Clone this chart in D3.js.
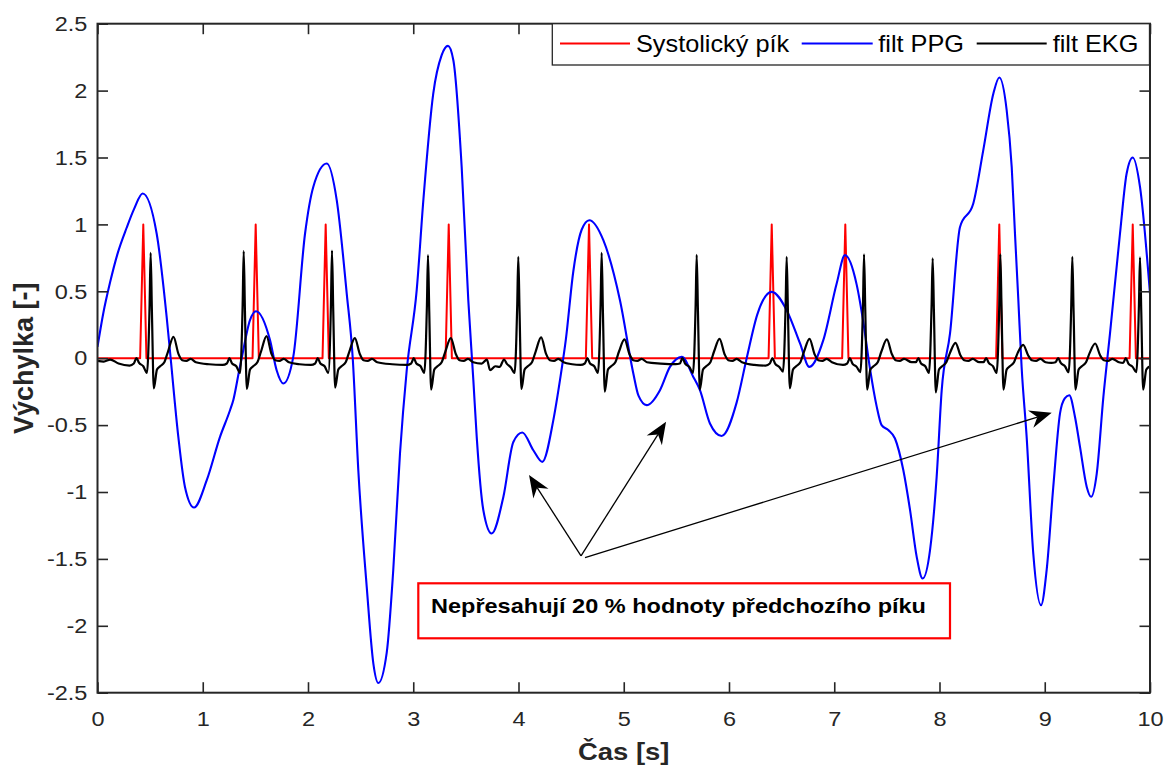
<!DOCTYPE html>
<html><head><meta charset="utf-8">
<script src="https://cdn.jsdelivr.net/npm/d3@7"></script>
<style>
body{margin:0;background:#fff}
svg{display:block}
text{font-family:"Liberation Sans",Arial,Helvetica,sans-serif}
</style>
</head><body>
<svg id="c" width="1164" height="766"></svg>
<script>
// ---------------- DATA ----------------
const seriesNames = ["Systolický pík", "filt PPG", "filt EKG"];
const xTicks = [0, 1, 2, 3, 4, 5, 6, 7, 8, 9, 10];
const yTicks = [-2.5, -2, -1.5, -1, -0.5, 0, 0.5, 1, 1.5, 2, 2.5];
const xLabel = "Čas [s]";
const yLabel = "Výchylka [-]";
const noteText = "Nepřesahují 20 % hodnoty předchozího píku";

// red: detected systolic peaks (0/1 marker signal)
const systolicPoints = [
  [0,0],[0.405,0],[0.435,1],[0.465,0],
  [1.473,0],[1.503,1],[1.533,0],
  [2.138,0],[2.168,1],[2.198,0],
  [3.307,0],[3.337,1],[3.367,0],
  [4.640,0],[4.670,1],[4.700,0],
  [6.376,0],[6.406,1],[6.436,0],
  [7.075,0],[7.105,1],[7.135,0],
  [8.538,0],[8.568,1],[8.598,0],
  [9.806,0],[9.836,1],[9.866,0],
  [10,0]
];

// blue: filtered PPG
const ppgPoints = [
  [0,0.085],[0.055,0.336],[0.119,0.565],[0.19,0.78],[0.277,0.975],[0.35,1.12],[0.429,1.231],[0.562,0.932],[0.657,0.309],[0.695,0.0],
  [0.768,-0.588],[0.831,-0.962],[0.917,-1.116],[1.038,-0.912],[1.164,-0.588],[1.259,-0.389],
  [1.29,-0.314],[1.347,-0.088],[1.37,0.0],[1.449,0.285],[1.506,0.351],[1.639,0.135],[1.702,-0.09],
  [1.766,-0.189],[1.86,0.01],[1.972,0.932],[2.05,1.28],[2.178,1.455],[2.273,1.181],[2.368,0.483],
  [2.425,0.0],[2.478,-0.837],[2.558,-1.709],[2.621,-2.282],[2.668,-2.427],[2.748,-2.2],[2.81,-1.584],
  [2.874,-0.712],[2.938,-0.09],[3.033,0.51],[3.096,1.181],[3.19,1.978],[3.27,2.265],[3.33,2.334],
  [3.381,2.227],[3.46,1.43],[3.523,0.433],[3.571,-0.164],[3.603,-0.588],[3.666,-1.136],[3.745,-1.31],
  [3.856,-1.037],[3.951,-0.626],[4.036,-0.555],[4.141,-0.688],[4.226,-0.775],[4.331,-0.463],
  [4.394,-0.164],[4.45,0.14],[4.521,0.65],[4.6,0.96],[4.673,1.031],[4.806,0.882],[4.964,0.433],
  [5.091,-0.114],[5.14,-0.28],[5.218,-0.351],[5.344,-0.239],[5.439,-0.065],[5.551,0.01],[5.661,-0.14],
  [5.724,-0.239],[5.819,-0.488],[5.93,-0.581],[6.073,-0.33],[6.168,0.0],[6.27,0.33],[6.406,0.496],
  [6.548,0.359],[6.675,0.11],[6.763,-0.065],[6.896,0.135],[7.023,0.558],[7.102,0.77],[7.213,0.55],
  [7.28,0.25],[7.34,-0.08],[7.403,-0.36],[7.45,-0.5],[7.513,-0.537],[7.577,-0.6],[7.656,-0.836],
  [7.72,-1.134],[7.783,-1.483],[7.84,-1.647],[7.91,-1.435],[7.973,-0.887],[8.021,-0.239],[8.1,0.185],
  [8.195,0.981],[8.321,1.156],[8.416,1.555],[8.512,1.978],[8.568,2.098],[8.638,1.855],[8.686,1.43],
  [8.717,0.933],[8.749,0.435],[8.78,-0.064],[8.828,-0.588],[8.891,-1.46],[8.965,-1.846],[9.018,-1.584],
  [9.081,-0.962],[9.145,-0.413],[9.19,-0.3],[9.233,-0.277],[9.287,-0.437],[9.335,-0.663],[9.399,-0.962],
  [9.44,-1.036],[9.494,-0.862],[9.557,-0.289],[9.62,0.185],[9.715,0.932],[9.778,1.38],[9.836,1.5],
  [9.905,1.28],[10.0,0.483]
];

// black: filtered ECG
const ekgPoints = [
  [0,-0.02],[0.06,-0.025],[0.12,-0.01],[0.2,-0.04],[0.305,-0.055],
  [0.345,-0.04],[0.37,0.0],[0.395,-0.035],[0.435,-0.06],[0.47,-0.11],[0.495,0.40],[0.505,0.787],[0.517,0.35],[0.535,-0.225],
  [0.565,-0.085],[0.595,-0.06],[0.635,-0.03],[0.67,0.05],[0.722,0.159],[0.77,0.03],[0.805,-0.015],[0.845,-0.02],[0.885,-0.005],[0.935,-0.03],[1.06,-0.045],
  [1.189,-0.05],[1.229,-0.04],[1.254,0.0],[1.279,-0.04],[1.319,-0.06],[1.354,-0.11],[1.379,0.40],[1.389,0.80],[1.401,0.35],[1.419,-0.23],
  [1.449,-0.085],[1.479,-0.06],[1.519,-0.03],[1.554,0.05],[1.606,0.165],[1.654,0.03],[1.689,-0.015],[1.729,-0.02],[1.769,-0.005],[1.819,-0.03],[1.92,-0.045],
  [2.028,-0.05],[2.068,-0.04],[2.093,0.0],[2.118,-0.04],[2.158,-0.06],[2.193,-0.11],[2.218,0.40],[2.228,0.805],[2.24,0.35],[2.258,-0.22],
  [2.288,-0.085],[2.318,-0.06],[2.358,-0.03],[2.393,0.05],[2.445,0.15],[2.493,0.03],[2.528,-0.015],[2.568,-0.02],[2.608,-0.005],[2.658,-0.03],[2.80,-0.045],
  [2.94,-0.05],[2.98,-0.04],[3.005,0.0],[3.03,-0.04],[3.07,-0.06],[3.105,-0.11],[3.13,0.40],[3.14,0.77],[3.152,0.35],[3.17,-0.235],
  [3.20,-0.085],[3.23,-0.06],[3.27,-0.03],[3.305,0.05],[3.357,0.15],[3.405,0.03],[3.44,-0.015],[3.48,-0.02],[3.52,-0.005],[3.57,-0.03],
  [3.65,-0.04],[3.70,-0.01],[3.73,-0.09],[3.78,-0.06],[3.82,-0.065],
  [3.863,-0.01],[3.888,-0.04],[3.928,-0.07],[3.963,-0.11],[3.988,0.40],[3.998,0.757],[4.01,0.35],[4.028,-0.23],
  [4.058,-0.085],[4.088,-0.06],[4.128,-0.03],[4.163,0.05],[4.215,0.155],[4.263,0.03],[4.298,-0.015],[4.338,-0.02],[4.378,-0.005],[4.428,-0.03],[4.51,-0.045],
  [4.59,-0.05],[4.63,-0.04],[4.655,0.0],[4.68,-0.04],[4.72,-0.06],[4.755,-0.11],[4.78,0.40],[4.79,0.787],[4.802,0.35],[4.82,-0.25],
  [4.85,-0.085],[4.88,-0.06],[4.92,-0.03],[4.955,0.05],[5.007,0.14],[5.055,0.03],[5.09,-0.015],[5.13,-0.02],[5.17,-0.005],[5.22,-0.03],[5.35,-0.04],
  [5.493,-0.045],[5.533,-0.04],[5.558,0.0],[5.583,-0.04],[5.623,-0.065],[5.658,-0.11],[5.683,0.40],[5.693,0.772],[5.705,0.35],[5.723,-0.235],
  [5.753,-0.085],[5.783,-0.06],[5.823,-0.03],[5.858,0.05],[5.91,0.145],[5.958,0.03],[5.993,-0.015],[6.033,-0.02],[6.073,-0.005],[6.123,-0.03],[6.24,-0.05],
  [6.348,-0.055],[6.388,-0.04],[6.413,0.0],[6.438,-0.04],[6.478,-0.065],[6.513,-0.1],[6.538,0.40],[6.548,0.757],[6.56,0.35],[6.578,-0.225],
  [6.608,-0.085],[6.638,-0.06],[6.678,-0.03],[6.713,0.05],[6.765,0.145],[6.813,0.03],[6.848,-0.015],[6.888,-0.02],[6.928,-0.005],[6.978,-0.03],
  [7.083,-0.05],[7.123,-0.04],[7.148,0.0],[7.173,-0.04],[7.213,-0.065],[7.248,-0.105],[7.273,0.40],[7.283,0.777],[7.295,0.35],[7.313,-0.235],
  [7.343,-0.085],[7.373,-0.06],[7.413,-0.03],[7.448,0.05],[7.50,0.14],[7.548,0.03],[7.583,-0.015],[7.623,-0.02],[7.663,-0.005],
  [7.735,-0.03],[7.775,-0.03],[7.80,0.0],[7.825,-0.04],[7.865,-0.06],[7.90,-0.11],[7.925,0.40],[7.935,0.747],[7.947,0.35],[7.965,-0.255],
  [7.995,-0.085],[8.025,-0.06],[8.065,-0.03],[8.10,0.04],[8.152,0.115],[8.20,0.02],[8.235,-0.015],[8.275,-0.02],[8.315,-0.005],
  [8.378,-0.03],[8.418,-0.03],[8.443,0.0],[8.468,-0.035],[8.508,-0.06],[8.543,-0.11],[8.568,0.40],[8.578,0.777],[8.59,0.35],[8.608,-0.235],
  [8.638,-0.085],[8.668,-0.06],[8.708,-0.03],[8.743,0.04],[8.795,0.10],[8.843,0.02],[8.878,-0.015],[8.918,-0.02],[8.958,-0.005],[9.008,-0.03],
  [9.062,-0.035],[9.102,-0.03],[9.127,0.0],[9.152,-0.035],[9.192,-0.06],[9.227,-0.105],[9.252,0.40],[9.262,0.757],[9.274,0.35],[9.292,-0.235],
  [9.322,-0.085],[9.352,-0.06],[9.392,-0.03],[9.427,0.04],[9.479,0.11],[9.527,0.02],[9.562,-0.015],[9.602,-0.02],[9.642,-0.005],
  [9.705,-0.03],[9.745,-0.035],[9.77,0.0],[9.795,-0.04],[9.835,-0.065],[9.87,-0.105],[9.895,0.40],[9.905,0.753],[9.917,0.35],[9.935,-0.235],
  [9.965,-0.085],[10.0,-0.06]
];

// annotation arrows (data coordinates): start -> tip
const arrowStarts = [[4.594,-1.478],[4.594,-1.478],[4.632,-1.49]];
const arrowTips   = [[4.10,-0.873],[5.402,-0.475],[9.066,-0.407]];

// ---------------- DRAW ----------------
const W = 1164, H = 766;
const plot = {left: 97.5, right: 1150, top: 23.7, bottom: 692.7};
const axisColor = "#262626";
const colors = ["#ff0000", "#0000ff", "#000000"];
const sx = 1.12; // horizontal text stretch of the reference

const x = d3.scaleLinear().domain([0, 10]).range([plot.left, plot.right]);
const y = d3.scaleLinear().domain([-2.5, 2.5]).range([plot.bottom, plot.top]);

const svg = d3.select("#c");
svg.append("rect").attr("width", W).attr("height", H).attr("fill", "#fff");

const defs = svg.append("defs");
defs.append("clipPath").attr("id", "clip").append("rect")
  .attr("x", plot.left).attr("y", plot.top)
  .attr("width", plot.right - plot.left).attr("height", plot.bottom - plot.top);

const lineLin = d3.line().x(d => x(d[0])).y(d => y(d[1])).curve(d3.curveLinear);
const lineSmooth = d3.line().x(d => x(d[0])).y(d => y(d[1])).curve(d3.curveMonotoneX);

const gData = svg.append("g").attr("clip-path", "url(#clip)");
gData.append("path").datum(systolicPoints).attr("d", lineLin)
  .attr("fill", "none").attr("stroke", colors[0]).attr("stroke-width", 2).attr("stroke-linejoin", "round");
gData.append("path").datum(ppgPoints).attr("d", lineSmooth)
  .attr("fill", "none").attr("stroke", colors[1]).attr("stroke-width", 2.1).attr("stroke-linejoin", "round");
gData.append("path").datum(ekgPoints).attr("d", lineSmooth)
  .attr("fill", "none").attr("stroke", colors[2]).attr("stroke-width", 2.2).attr("stroke-linejoin", "round");

// axes (ticks pointing inward, MATLAB style)
const fmt = d => String(d);
function styleAxis(g, withText) {
  g.select(".domain").remove();
  g.selectAll(".tick line").attr("stroke", axisColor).attr("stroke-width", 1.6);
  if (withText) {
    g.selectAll(".tick text").attr("fill", axisColor).attr("font-size", 21)
      .attr("transform", `scale(${sx},1)`);
  } else {
    g.selectAll(".tick text").remove();
  }
}
svg.append("g").attr("transform", `translate(0,${plot.bottom})`)
  .call(d3.axisBottom(x).tickValues(xTicks).tickSizeInner(-10.5).tickSizeOuter(0).tickPadding(18.5).tickFormat(fmt))
  .call(g => styleAxis(g, true));
svg.append("g").attr("transform", `translate(${plot.left},0)`)
  .call(d3.axisLeft(y).tickValues(yTicks).tickSizeInner(-10.5).tickSizeOuter(0).tickPadding(9).tickFormat(fmt))
  .call(g => styleAxis(g, true));
svg.append("g").attr("transform", `translate(0,${plot.top})`)
  .call(d3.axisTop(x).tickValues(xTicks).tickSizeInner(-10.5).tickSizeOuter(0).tickFormat(""))
  .call(g => styleAxis(g, false));
svg.append("g").attr("transform", `translate(${plot.right},0)`)
  .call(d3.axisRight(y).tickValues(yTicks).tickSizeInner(-10.5).tickSizeOuter(0).tickFormat(""))
  .call(g => styleAxis(g, false));

svg.append("rect").attr("x", plot.left).attr("y", plot.top)
  .attr("width", plot.right - plot.left).attr("height", plot.bottom - plot.top)
  .attr("fill", "none").attr("stroke", axisColor).attr("stroke-width", 2);

// axis labels
svg.append("text").attr("transform", `translate(${(plot.left + plot.right) / 2},759.5) scale(${sx},1)`)
  .attr("text-anchor", "middle").attr("font-size", 24.5).attr("font-weight", "bold").attr("fill", axisColor)
  .text(xLabel);
svg.append("text").attr("transform", `translate(33,${(plot.top + plot.bottom) / 2}) rotate(-90)`)
  .attr("text-anchor", "middle").attr("font-size", 27).attr("font-weight", "bold").attr("fill", axisColor)
  .text(yLabel);

// legend
const leg = {x: 552.3, y: plot.top, w: 1149.5 - 552.3, h: 65 - plot.top};
svg.append("rect").attr("x", leg.x).attr("y", leg.y).attr("width", leg.w).attr("height", leg.h)
  .attr("fill", "#fff").attr("stroke", axisColor).attr("stroke-width", 1.3);
const legItems = [
  {x1: 560, x2: 630, tx: 636},
  {x1: 801.7, x2: 872.7, tx: 878.3},
  {x1: 976.7, x2: 1046.7, tx: 1052.7}
];
legItems.forEach((it, i) => {
  svg.append("line").attr("x1", it.x1).attr("x2", it.x2).attr("y1", 43.5).attr("y2", 43.5)
    .attr("stroke", colors[i]).attr("stroke-width", 2.1);
  svg.append("text").attr("transform", `translate(${it.tx},52) scale(1.1,1)`)
    .attr("font-size", 23).attr("fill", "#000").text(seriesNames[i]);
});

// annotation arrows
const headL = 22, headW = 9, notch = 15;
arrowStarts.forEach((s, i) => {
  const x0 = x(s[0]), y0 = y(s[1]);
  const x1 = x(arrowTips[i][0]), y1 = y(arrowTips[i][1]);
  const dx = x1 - x0, dy = y1 - y0, len = Math.hypot(dx, dy);
  const ux = dx / len, uy = dy / len, px = -uy, py = ux;
  svg.append("line").attr("x1", x0).attr("y1", y0)
    .attr("x2", x1 - ux * notch).attr("y2", y1 - uy * notch)
    .attr("stroke", "#000").attr("stroke-width", 1.3);
  const pts = [
    [x1, y1],
    [x1 - ux * headL + px * headW, y1 - uy * headL + py * headW],
    [x1 - ux * notch, y1 - uy * notch],
    [x1 - ux * headL - px * headW, y1 - uy * headL - py * headW]
  ];
  svg.append("polygon").attr("points", pts.map(p => p.join(",")).join(" ")).attr("fill", "#000");
});

// annotation text box
svg.append("rect").attr("x", 418.3).attr("y", 583.3).attr("width", 950 - 418.3).attr("height", 638.3 - 583.3)
  .attr("fill", "#fff").attr("stroke", "#ff0000").attr("stroke-width", 2.2);
svg.append("text").attr("transform", `translate(431,613) scale(${sx},1)`)
  .attr("font-size", 21).attr("font-weight", "bold").attr("fill", "#000").text(noteText);
</script>
</body></html>
